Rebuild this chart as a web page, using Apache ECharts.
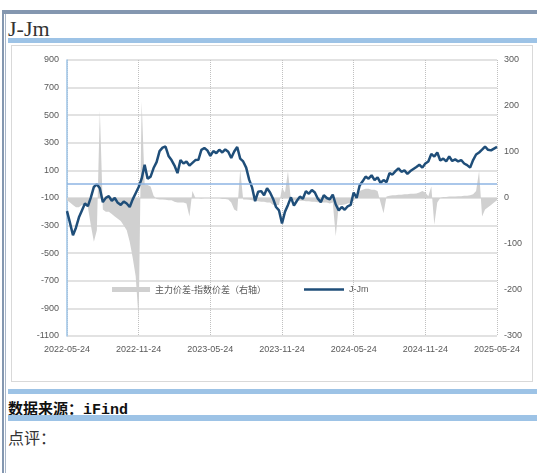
<!DOCTYPE html>
<html>
<head>
<meta charset="utf-8">
<title>J-Jm</title>
<script src="https://cdn.jsdelivr.net/npm/echarts@6/dist/echarts.min.js"></script>
<style>
  html, body { margin: 0; padding: 0; background: #fff; }
  body { width: 537px; height: 473px; position: relative; overflow: hidden; }
  .blk { position: absolute; }
  .edge { background: #8497b0; }
  .band { background: #9dc3e6; left: 8px; width: 529px; }
  #chart { position: absolute; left: 0; top: 0; width: 537px; height: 473px; z-index: 2; }
</style>
</head>
<body>
<div class="blk edge" style="left:2px;top:10px;width:535px;height:4px"></div>
<div class="blk edge" style="left:2px;top:10px;width:2px;height:463px"></div>
<div class="blk edge" style="left:5px;top:10px;width:1px;height:463px;opacity:.7"></div>
<div class="blk" style="left:8px;top:16px;font:22px 'Liberation Serif',serif;color:#333">J-Jm</div>
<div class="blk band" style="top:38px;height:5px"></div>
<div class="blk" style="left:11px;top:45px;width:520px;height:335px;border:1px solid #d9d9d9"></div>
<div class="blk band" style="top:389px;height:5px"></div>
<div class="blk" style="left:8px;top:397px;font:bold 15px 'Liberation Mono','Noto Sans CJK SC',monospace;color:#111">数据来源：iFind</div>
<div class="blk band" style="top:415px;height:6px"></div>
<div class="blk" style="left:8px;top:425px;font:16px 'Noto Sans CJK SC',sans-serif;color:#333">点评：</div>
<div id="chart"></div>
<script>
// x labels shown every six months
const xTickLabels = ['2022-05-24', '2022-11-24', '2023-05-24', '2023-11-24', '2024-05-24', '2024-11-24', '2025-05-24'];
const leftTicks = [-1100, -900, -700, -500, -300, -100, 100, 300, 500, 700, 900];
const rightTicks = [-300, -200, -100, 0, 100, 200, 300];

// J-Jm (left axis)
const jjm = [
  -195, -280, -370, -315, -240, -190, -140, -159, -95, -20, 0, -30,
  -130, -99, -87, -120, -100, -135, -150, -125, -140, -165, -110, -65,
  -20, 40, 140, 40, 55, 117, 160, 240, 265, 273, 205, 175,
  135, 80, 175, 150, 165, 135, 155, 175, 177, 249, 262, 245,
  205, 240, 225, 250, 230, 252, 235, 190, 237, 270, 185, 165,
  120, 33, -25, -123, -55, -50, -80, -30, -60, -105, -165, -190,
  -285, -200, -150, -95, -155, -120, -90, -105, -50, -70, -42, -60,
  -105, -130, -80, -100, -110, -75, -147, -190, -165, -185, -160, -150,
  -60, -100, -10, 21, 55, 40, 65, 30, 50, 10, 30, 15,
  81, 70, 95, 115, 90, 100, 75, 95, 110, 125, 141, 120,
  150, 165, 220, 200, 230, 172, 185, 165, 201, 168, 180, 165,
  175, 150, 138, 120, 175, 215, 230, 250, 273, 249, 245, 258,
  270
];

// 主力价差-指数价差 (right axis)
const spread = [
  -5, -10, -15, -20, -20, -15, -15, -20, -60, -95, -70, 190,
  -25, -30, -30, -35, -40, -45, -50, -60, -70, -95, -130, -170,
  -265, 210, 30, 28, 25, 5, -2, -3, -3, -4, -5, -5,
  -8, -10, -10, -10, -12, -40, 15, 0, 0, -1, 0, 0,
  0, 0, 0, 0, -2, -2, -3, -10, -25, -29, 62, -3,
  -3, -4, -5, -6, -7, -8, -8, -10, -10, -15, -15, -15,
  22, 12, 58, -5, -5, -5, -6, -6, -7, -7, -8, -8,
  -9, -9, -10, -10, -12, -10, -83, -15, -15, -14, -12, -10,
  -5, 0, 15, 18, 20, 20, 18, 18, 15, -10, -33, 3,
  5, 6, 6, 7, 7, 8, 8, 9, 9, 10, 12, 15,
  12, 4, 25, -58, -10, 0, 2, 2, 3, 3, 3, 4,
  4, 5, 5, 6, 8, 15, 58, -40, -25, -20, -15, -10,
  -5
];

// roughly weekly dates from 2022-05-24
const dates = ['2022-05-24'];
let yr = 2022, mo = 6;
while (dates.length < jjm.length) {
  [1, 8, 16, 24].forEach(function (d) {
    dates.push(yr + '-' + String(mo).padStart(2, '0') + '-' + String(d).padStart(2, '0'));
  });
  mo++;
  if (mo > 12) { mo = 1; yr++; }
}

const showTick = function (idx, val) { return xTickLabels.indexOf(val) >= 0; };
const plain = function (v) { return String(v); };
const labelStyle = { color: '#595959', fontSize: 9, fontFamily: 'Liberation Sans, Arial, sans-serif' };

const myChart = echarts.init(document.getElementById('chart'));
myChart.setOption({
  animation: false,
  grid: { left: 67, right: 40, top: 60, bottom: 137 },
  legend: [
    {
      data: ['主力价差-指数价差（右轴）'],
      left: 107, top: 280,
      icon: 'rect', itemWidth: 38, itemHeight: 5,
      textStyle: { color: '#595959', fontSize: 9, fontFamily: 'Noto Sans CJK SC' }
    },
    {
      data: ['J-Jm'],
      left: 299, top: 280,
      icon: 'rect', itemWidth: 40, itemHeight: 2.5,
      textStyle: { color: '#595959', fontSize: 9, fontFamily: 'Liberation Sans' }
    }
  ],
  xAxis: {
    type: 'category',
    data: dates,
    boundaryGap: false,
    axisLine: { show: false },
    axisTick: { show: false },
    axisLabel: Object.assign({ interval: showTick, margin: 9 }, labelStyle),
    splitLine: {
      show: true,
      interval: showTick,
      lineStyle: { type: 'dotted', color: '#c0c0c0', width: 1 }
    }
  },
  yAxis: [
    {
      type: 'value',
      min: leftTicks[0],
      max: leftTicks[leftTicks.length - 1],
      interval: leftTicks[1] - leftTicks[0],
      axisLine: { show: true, lineStyle: { color: '#9dc3e6', width: 1.5 } },
      axisTick: { show: false },
      axisLabel: Object.assign({ margin: 8, formatter: plain }, labelStyle),
      splitLine: { lineStyle: { color: '#d9d9d9', width: 1.5 } }
    },
    {
      type: 'value',
      position: 'right',
      min: rightTicks[0],
      max: rightTicks[rightTicks.length - 1],
      interval: rightTicks[1] - rightTicks[0],
      axisLine: { show: false },
      axisTick: { show: false },
      axisLabel: Object.assign({ margin: 7, formatter: plain }, labelStyle),
      splitLine: { show: false }
    }
  ],
  series: [
    {
      name: '主力价差-指数价差（右轴）',
      type: 'line',
      yAxisIndex: 1,
      data: spread,
      symbol: 'none',
      itemStyle: { color: '#d0d0d0' },
      lineStyle: { width: 0 },
      areaStyle: { color: '#d0d0d0', opacity: 1 }
    },
    {
      name: 'J-Jm',
      type: 'line',
      data: jjm,
      symbol: 'none',
      itemStyle: { color: '#1f4e79' },
      lineStyle: { color: '#1f4e79', width: 2.5 },
      markLine: {
        silent: true,
        symbol: 'none',
        label: { show: false },
        lineStyle: { color: '#8eb4e3', width: 1.5, type: 'solid' },
        data: [{ yAxis: 0 }]
      }
    }
  ]
});
</script>
</body>
</html>
